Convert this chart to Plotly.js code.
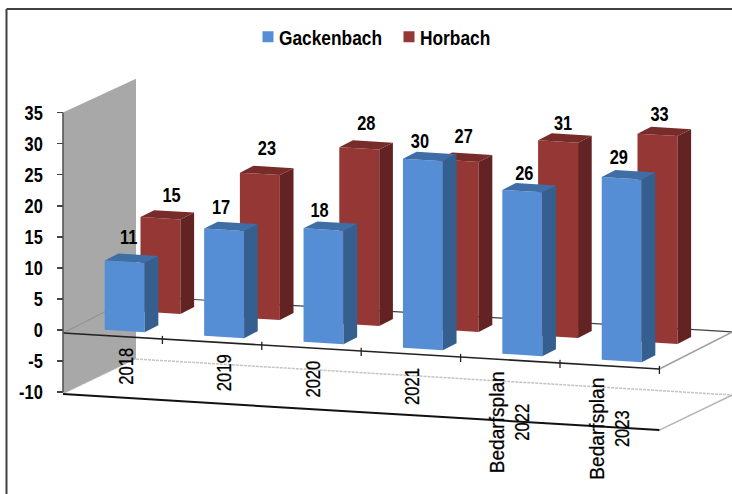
<!DOCTYPE html>
<html>
<head>
<meta charset="utf-8">
<script src="https://cdn.plot.ly/plotly-3.0.1.min.js"></script>
<style>html,body{margin:0;padding:0;background:#fff}</style>
</head>
<body>
<div id="chart" style="width:732px;height:494px"></div>
<script>
// ---- data ----
const categories = ["2018", "2019", "2020", "2021", "Bedarfsplan<br>2022", "Bedarfsplan<br>2023"];
const gackenbach = [11, 17, 18, 30, 26, 29];
const horbach = [15, 23, 28, 27, 31, 33];
const yTickVals = [35, 30, 25, 20, 15, 10, 5, 0, -5, -10];
const yTickText = ["35", "30", "25", "20", "15", "10", "5", "0", "-5", "-10"];

// ---- label nudges (px), separate from values ----
const blueNudge = [[24, -22], [17, -20], [16, -17], [17, -16], [22, -15], [17, -18]];
const redNudge = [[31, -20], [27, -23], [27, -22], [25, -22], [25, -16], [22, -18]];
const catNudge = [[12, 30], [11, 31], [0, 31], [0, 32], [0, 62], [0, 63]];

// ---- oblique projection of the 3D box on to the plain 2D axes ----
const PX_PER_CAT = 99.4, PX_PER_UNIT = 6.21, BAR_UNIT = 6.3;
const ORIGIN_X = 63, ORIGIN_Y = 330;
const DEPTH_X = 73, DEPTH_Y = 37, SHEAR = 6, PLANE_DROP = 3;
const FONT = '"Liberation Sans", Arial, sans-serif';
const FONT_SIZE = 21;

function proj(c, d, v) {
  const dx = c * PX_PER_CAT + d * DEPTH_X;
  const dy = PLANE_DROP + c * SHEAR - d * DEPTH_Y - v * BAR_UNIT; // px below the axis zero
  return [dx / PX_PER_CAT, -dy / PX_PER_UNIT];
}
function polyTrace(polys, color) {
  const x = [], y = [];
  polys.forEach(p => {
    p.forEach(q => { const r = proj(q[0], q[1], q[2]); x.push(r[0]); y.push(r[1]); });
    x.push(null); y.push(null);
  });
  return {type: "scatter", mode: "lines", x, y, fill: "toself", fillcolor: color,
          line: {width: 0, color: color}, showlegend: false, hoverinfo: "skip"};
}
function lineTrace(points, color, width, dash) {
  const x = [], y = [];
  points.forEach(q => {
    if (!q) { x.push(null); y.push(null); return; }
    const r = proj(q[0], q[1], q[2]); x.push(r[0]); y.push(r[1]);
  });
  return {type: "scatter", mode: "lines", x, y,
          line: {color, width, dash: dash || "solid"}, showlegend: false, hoverinfo: "skip"};
}

const OFF_C = 0.317, W = 0.402, D = 0.187;
function barTraces(values, depth, cols) {
  const front = [], side = [], top = [];
  values.forEach((v, i) => {
    const a = i + OFF_C, b = a + W, d2 = depth + D;
    front.push([[a, depth, 0], [b, depth, 0], [b, depth, v], [a, depth, v]]);
    side.push([[b, depth, 0], [b, d2, 0], [b, d2, v], [b, depth, v]]);
    top.push([[a, depth, v], [b, depth, v], [b, d2, v], [a, d2, v]]);
  });
  return [polyTrace(front, cols[0]), polyTrace(side, cols[1]), polyTrace(top, cols[2])];
}
function labelTrace(values, depth, nudge) {
  const x = [], y = [];
  values.forEach((v, i) => {
    const r = proj(i + OFF_C, depth, v);
    x.push(r[0] + nudge[i][0] / PX_PER_CAT);
    y.push(r[1] - nudge[i][1] / PX_PER_UNIT);
  });
  return {type: "scatter", mode: "text", x, y, text: values.map(String),
          textposition: "middle center", cliponaxis: false,
          textfont: {family: FONT, size: FONT_SIZE, color: "#000", weight: 700},
          showlegend: false, hoverinfo: "skip"};
}

const BLUE = ["#558ed5", "#355f8e", "#3f6ea6"];
const RED = ["#953735", "#632322", "#772c2a"];
const FLOOR_FRONT = -9.7, FLOOR_BACK = -10, WALL_TOP_BACK = 34.5;
const N = categories.length;

const catTicks = [];
for (let i = 1; i <= N; i++) { catTicks.push([i, 0, 0.5], [i, 0, -0.8], null); }

const traces = [
  polyTrace([[[0, 0, 35], [0, 1, WALL_TOP_BACK], [0, 1, FLOOR_BACK], [0, 0, FLOOR_FRONT]]], "#a8a8a8"),
  lineTrace([[0, 1, FLOOR_BACK], [N, 1, FLOOR_BACK]], "#c4c4c4", 1.5, "3px,1px"),
  lineTrace([[0, 0, FLOOR_FRONT], [0, 1, FLOOR_BACK]], "#d8d8d8", 1, "2px,2px"),
  lineTrace([[N, 0, FLOOR_FRONT], [N, 1, FLOOR_BACK]], "#b4b4b4", 1.5),
  lineTrace([[0, 0, 0], [0, 1, 0]], "#8c8c8c", 1),
  lineTrace([[0, 1, 0], [N, 1, 0]], "#404040", 1.2),
  lineTrace([[N, 0, 0], [N, 1, 0]], "#a0a0a0", 1.5),
  lineTrace([[0, 0, FLOOR_FRONT], [N, 0, FLOOR_FRONT]], "#111", 2),
  ...barTraces(horbach, 0.63, RED),
  ...barTraces(gackenbach, 0.14, BLUE),
  lineTrace([[0, 0, 0], [N, 0, 0]], "#222", 1.6),
  lineTrace(catTicks, "#222", 1.3),
  {type: "scatter", mode: "lines", x: [0, 0], y: [35, -10], line: {color: "#555", width: 1.6},
   showlegend: false, hoverinfo: "skip"},
  labelTrace(gackenbach, 0.14, blueNudge),
  labelTrace(horbach, 0.63, redNudge),
  {type: "scatter", mode: "markers", name: "Gackenbach", x: [null], y: [null],
   marker: {symbol: "square", size: 11, color: BLUE[0]}},
  {type: "scatter", mode: "markers", name: "Horbach", x: [null], y: [null],
   marker: {symbol: "square", size: 11, color: RED[0]}}
];

const annotations = categories.map((t, i) => {
  const r = proj(i + 0.5, 0, 0);
  return {x: r[0], y: r[1], xref: "x", yref: "y", text: t, showarrow: false, textangle: -90,
          xanchor: "center", yanchor: "middle", xshift: catNudge[i][0], yshift: -catNudge[i][1],
          font: {family: FONT, size: FONT_SIZE, color: "#000"}, align: "center"};
});

const layout = {
  width: 732, height: 494, autosize: false,
  margin: {l: 0, r: 0, t: 0, b: 0, pad: 0},
  paper_bgcolor: "#fff", plot_bgcolor: "#fff",
  xaxis: {range: [-ORIGIN_X / PX_PER_CAT, (732 - ORIGIN_X) / PX_PER_CAT], domain: [0, 1],
          visible: false, fixedrange: true},
  yaxis: {range: [(ORIGIN_Y - 494) / PX_PER_UNIT, ORIGIN_Y / PX_PER_UNIT], domain: [0, 1],
          anchor: "free", position: ORIGIN_X / 732, side: "left",
          tickmode: "array", tickvals: yTickVals, ticktext: yTickText,
          ticks: "outside", ticklen: 6, tickwidth: 1.4, tickcolor: "#444",
          ticklabelstandoff: 10,
          tickfont: {family: FONT, size: FONT_SIZE, color: "#000", weight: 700},
          showgrid: false, zeroline: false, showline: false, fixedrange: true},
  showlegend: true,
  legend: {orientation: "h", x: 239 / 732, y: 1 - 37 / 494, xanchor: "left", yanchor: "middle",
           bgcolor: "rgba(0,0,0,0)", entrywidth: 96, entrywidthmode: "pixels",
           font: {family: FONT, size: FONT_SIZE, color: "#000", weight: 700}},
  annotations,
  shapes: [
    {type: "line", xref: "paper", yref: "paper", x0: 6.5 / 732, x1: 6.5 / 732, y0: 0, y1: 1 - 9 / 494,
     line: {color: "#404040", width: 2}},
    {type: "line", xref: "paper", yref: "paper", x0: 6.5 / 732, x1: 1, y0: 1 - 9 / 494, y1: 1 - 9 / 494,
     line: {color: "#404040", width: 2}}
  ]
};

// The reference uses a narrow face; no narrow font is installed, so glyphs are condensed.
function condense(el, factor) {
  const len = el.getComputedTextLength();
  if (len > 0) {
    el.setAttribute("textLength", (len * factor).toFixed(1));
    el.setAttribute("lengthAdjust", "spacingAndGlyphs");
  }
}

Plotly.newPlot("chart", traces, layout, {displayModeBar: false, staticPlot: true}).then(gd => {
  // the reference keeps its small legend squares close to the text
  gd.querySelectorAll(".legend .legendpoints").forEach(el => {
    el.setAttribute("transform", "translate(9,0)");
  });
  gd.querySelectorAll(".ytick text").forEach(el => condense(el, 0.78));
  gd.querySelectorAll(".textpoint text").forEach(el => condense(el, 0.78));
  gd.querySelectorAll(".legendtext").forEach(el => condense(el, 0.825));
  gd.querySelectorAll(".annotation-text").forEach(el => {
    el.style.stroke = "#000";
    el.style.strokeWidth = "0.25px";
    const lines = el.querySelectorAll("tspan.line");
    if (lines.length) {
      lines.forEach((t, k) => {
        condense(t, /[a-z]/.test(t.textContent) ? 0.91 : 0.79);
        if (k > 0) t.setAttribute("dy", "1.2em");
      });
    } else {
      condense(el, 0.79);
    }
  });
});
</script>
</body>
</html>
